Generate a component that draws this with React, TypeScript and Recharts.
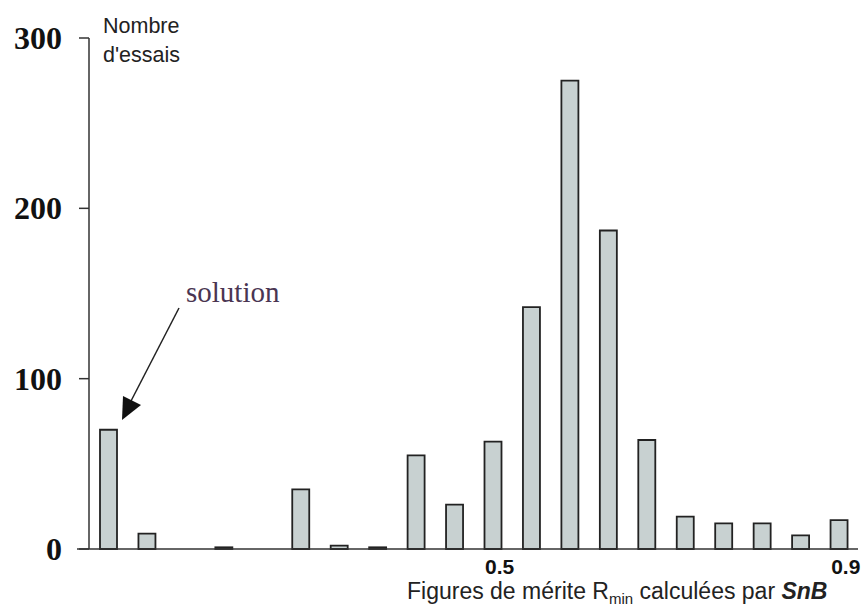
import React from 'react';
import { BarChart, Bar, XAxis, YAxis } from 'recharts';

// histogram bins (20 classes of R_min), counts
const bins = ['1', '2', '3', '4', '5', '6', '7', '8', '9', '10', '11', '12', '13', '14', '15', '16', '17', '18', '19', '20'];
const counts = [70, 9, 0, 1, 0, 35, 2, 1, 55, 26, 63, 142, 275, 187, 64, 19, 15, 15, 8, 17];
const tickLabels = ['', '', '', '', '', '', '', '', '', '', '0.5', '', '', '', '', '', '', '', '', '0.9'];
const yTicks = [0, 100, 200, 300];

const data = bins.map((bin, i) => ({ bin, count: counts[i] }));

const XTick = (props: any) => {
  const { x, y, payload } = props;
  const label = tickLabels[bins.indexOf(payload.value)];
  if (!label) return null;
  return (
    <text x={x + 7} y={y + 17} textAnchor="middle" fontFamily="Liberation Sans, Arial, sans-serif" fontWeight="bold" fontSize={21} fill="#111">
      {label}
    </text>
  );
};

const YTick = (props: any) => {
  const { x, y, payload } = props;
  return (
    <text x={x} y={y + 11} textAnchor="end" fontFamily="Liberation Serif, Times New Roman, serif" fontWeight="bold" fontSize={32} fill="#111">
      {payload.value}
    </text>
  );
};

const Annotations = () => (
  <g>
    <line x1={77} y1={549} x2={89} y2={549} stroke="#333" strokeWidth={1.5} />
    <text fontFamily="Liberation Sans, Arial, sans-serif" fontSize={21.5} fill="#222">
      <tspan x={103} y={33}>Nombre</tspan>
      <tspan x={103} y={62}>d'essais</tspan>
    </text>
    <text x={186} y={302} fontFamily="Liberation Serif, Times New Roman, serif" fontSize={29} fill="#4a3552">
      solution
    </text>
    <line x1={179} y1={308} x2={131} y2={401} stroke="#222" strokeWidth={1.5} />
    <polygon points="122,420 123,396 141,405" fill="#111" />
    <text x={407} y={599} fontFamily="Liberation Sans, Arial, sans-serif" fontSize={23} fill="#222">
      Figures de mérite R
      <tspan fontSize={15} dy={5}>min</tspan>
      <tspan dy={-5}> calculées par </tspan>
      <tspan fontWeight="bold" fontStyle="italic">SnB</tspan>
    </text>
  </g>
);

export default function App() {
  return (
    <div style={{ position: 'absolute', left: 0, top: 0, width: 861, height: 611, background: '#fff' }}>
      <BarChart width={861} height={611} data={data} margin={{ top: 38, right: 3, bottom: 0, left: 0 }} barCategoryGap={0}>
        <XAxis
          dataKey="bin"
          height={62}
          interval={0}
          tickLine={false}
          tick={<XTick />}
          axisLine={{ stroke: '#333', strokeWidth: 1.5 }}
        />
        <YAxis
          width={89}
          domain={[0, 300]}
          ticks={yTicks}
          tickSize={10}
          tickMargin={17}
          tick={<YTick />}
          tickLine={{ stroke: '#333', strokeWidth: 1.5 }}
          axisLine={{ stroke: '#333', strokeWidth: 1.5 }}
        />
        <Bar dataKey="count" barSize={17} fill="#c8d1d1" stroke="#222" strokeWidth={1.8} isAnimationActive={false} />
        <Annotations />
      </BarChart>
    </div>
  );
}
